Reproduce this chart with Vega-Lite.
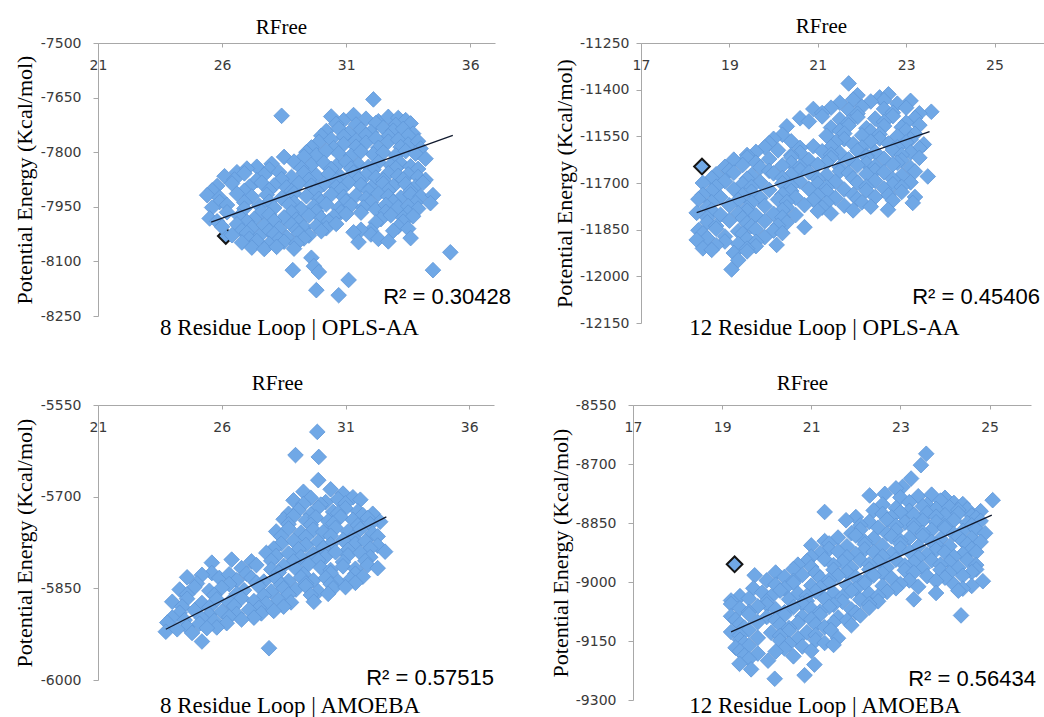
{
  "$schema": "https://vega.github.io/schema/vega-lite/v6.json",
  "background": "white",
  "padding": {"left": 12, "top": 15, "right": 0, "bottom": 0},
  "config": {
    "view": {"stroke": null},
    "axis": {"grid": false, "domainColor": "#a8a8a8", "tickColor": "#a8a8a8", "labelFont": "DejaVu Sans", "labelFontSize": 14, "labelColor": "#3a3a3a", "titleFont": "Liberation Serif, Times New Roman, DejaVu Serif, serif", "titleFontWeight": "normal", "titleColor": "#000000", "labelFlush": false, "labelOverlap": false},
    "axisX": {"labelPadding": -18, "tickSize": -4, "labelBaseline": "middle", "titleFontSize": 21, "titleBaseline": "alphabetic", "titleAlign": "center"},
    "axisY": {"tickSize": 5, "titleFontSize": 22, "titleBaseline": "alphabetic"},
    "text": {"font": "Liberation Sans, Arial, Helvetica, sans-serif", "fontSize": 22, "color": "#000000", "align": "right", "baseline": "middle"},
    "point": {"shape": "diamond", "filled": true, "size": 245, "color": "#70a8e6", "stroke": "#5f97d8", "strokeWidth": 0.8, "opacity": 1},
    "line": {"color": "#111a2e", "strokeWidth": 1.3}
  },
  "datasets": {
    "trend": [
      {"panel": "p1", "rfree": 25.56, "energy": -7992}, {"panel": "p1", "rfree": 35.3, "energy": -7754},
      {"panel": "p2", "rfree": 18.26, "energy": -11795}, {"panel": "p2", "rfree": 23.53, "energy": -11535},
      {"panel": "p3", "rfree": 23.74, "energy": -5917}, {"panel": "p3", "rfree": 32.65, "energy": -5733},
      {"panel": "p4", "rfree": 19.2, "energy": -9127}, {"panel": "p4", "rfree": 25.05, "energy": -8830}
    ],
    "p1hl": [{"rfree": 26.15, "energy": -8030}],
    "p2hl": [{"rfree": 18.38, "energy": -11647}],
    "p4hl": [{"rfree": 19.28, "energy": -8955}],
    "p1": [
      {"rfree":32.1,"energy":-7655},{"rfree":28.4,"energy":-7700},
      {"rfree":30.4,"energy":-7702},{"rfree":30.9,"energy":-7712},{"rfree":31.3,"energy":-7698},{"rfree":31.8,"energy":-7708},{"rfree":32.3,"energy":-7715},{"rfree":32.7,"energy":-7703},{"rfree":33.1,"energy":-7706},{"rfree":33.4,"energy":-7712},
      {"rfree":30.6,"energy":-7722},{"rfree":31.4,"energy":-7724},{"rfree":32.2,"energy":-7720},{"rfree":33.0,"energy":-7725},{"rfree":33.6,"energy":-7721},
      {"rfree":30.2,"energy":-7742},{"rfree":30.7,"energy":-7735},{"rfree":31.1,"energy":-7748},{"rfree":31.6,"energy":-7738},{"rfree":32.0,"energy":-7745},{"rfree":32.5,"energy":-7733},{"rfree":32.9,"energy":-7741},{"rfree":33.3,"energy":-7736},{"rfree":33.7,"energy":-7749},
      {"rfree":30.0,"energy":-7755},{"rfree":30.9,"energy":-7757},{"rfree":31.8,"energy":-7753},{"rfree":32.7,"energy":-7756},{"rfree":33.5,"energy":-7754},
      {"rfree":29.9,"energy":-7772},{"rfree":30.4,"energy":-7765},{"rfree":30.9,"energy":-7778},{"rfree":31.4,"energy":-7768},{"rfree":31.8,"energy":-7774},{"rfree":32.2,"energy":-7762},{"rfree":32.7,"energy":-7771},{"rfree":33.1,"energy":-7766},{"rfree":33.5,"energy":-7779},{"rfree":33.9,"energy":-7770},
      {"rfree":29.6,"energy":-7787},{"rfree":30.5,"energy":-7789},{"rfree":31.4,"energy":-7785},{"rfree":32.3,"energy":-7788},{"rfree":33.2,"energy":-7786},{"rfree":34.0,"energy":-7790},
      {"rfree":29.4,"energy":-7800},{"rfree":29.8,"energy":-7808},{"rfree":30.2,"energy":-7796},{"rfree":30.7,"energy":-7803},{"rfree":31.2,"energy":-7810},{"rfree":31.6,"energy":-7798},{"rfree":32.1,"energy":-7806},{"rfree":32.5,"energy":-7801},{"rfree":33.0,"energy":-7809},{"rfree":33.4,"energy":-7797},{"rfree":33.8,"energy":-7804},
      {"rfree":28.5,"energy":-7813},{"rfree":29.3,"energy":-7812},{"rfree":34.2,"energy":-7818},
      {"rfree":26.6,"energy":-7855},{"rfree":27.4,"energy":-7840},{"rfree":28.0,"energy":-7832},{"rfree":28.9,"energy":-7826},{"rfree":29.6,"energy":-7835},{"rfree":30.1,"energy":-7829},{"rfree":30.6,"energy":-7838},{"rfree":31.0,"energy":-7827},{"rfree":31.5,"energy":-7834},{"rfree":31.9,"energy":-7840},{"rfree":32.3,"energy":-7828},{"rfree":32.8,"energy":-7836},{"rfree":33.2,"energy":-7831},{"rfree":33.6,"energy":-7839},
      {"rfree":27.0,"energy":-7845},{"rfree":27.9,"energy":-7847},{"rfree":29.2,"energy":-7844},{"rfree":30.4,"energy":-7846},{"rfree":31.2,"energy":-7845},{"rfree":32.1,"energy":-7848},{"rfree":33.0,"energy":-7844},{"rfree":33.9,"energy":-7846},
      {"rfree":26.1,"energy":-7866},{"rfree":26.9,"energy":-7858},{"rfree":27.7,"energy":-7862},{"rfree":28.3,"energy":-7855},{"rfree":28.8,"energy":-7868},{"rfree":29.3,"energy":-7857},{"rfree":29.8,"energy":-7864},{"rfree":30.3,"energy":-7860},{"rfree":30.8,"energy":-7869},{"rfree":31.3,"energy":-7856},{"rfree":31.8,"energy":-7863},{"rfree":32.2,"energy":-7870},{"rfree":32.7,"energy":-7858},{"rfree":33.1,"energy":-7865},{"rfree":33.5,"energy":-7861},{"rfree":33.9,"energy":-7868},
      {"rfree":26.5,"energy":-7875},{"rfree":27.4,"energy":-7877},{"rfree":28.4,"energy":-7874},{"rfree":29.5,"energy":-7876},{"rfree":30.6,"energy":-7878},{"rfree":31.5,"energy":-7874},{"rfree":32.5,"energy":-7877},{"rfree":33.3,"energy":-7875},{"rfree":34.2,"energy":-7876},
      {"rfree":25.8,"energy":-7893},{"rfree":26.4,"energy":-7886},{"rfree":27.1,"energy":-7895},{"rfree":27.6,"energy":-7884},{"rfree":28.1,"energy":-7891},{"rfree":28.6,"energy":-7897},{"rfree":29.1,"energy":-7885},{"rfree":29.6,"energy":-7892},{"rfree":30.1,"energy":-7888},{"rfree":30.6,"energy":-7896},{"rfree":31.1,"energy":-7883},{"rfree":31.6,"energy":-7890},{"rfree":32.0,"energy":-7897},{"rfree":32.5,"energy":-7886},{"rfree":32.9,"energy":-7893},{"rfree":33.4,"energy":-7888},{"rfree":33.8,"energy":-7895},{"rfree":34.1,"energy":-7884},
      {"rfree":25.6,"energy":-7905},{"rfree":26.9,"energy":-7906},{"rfree":27.9,"energy":-7904},{"rfree":28.8,"energy":-7907},{"rfree":29.8,"energy":-7905},{"rfree":30.8,"energy":-7903},{"rfree":31.9,"energy":-7906},{"rfree":32.7,"energy":-7905},{"rfree":33.6,"energy":-7907},
      {"rfree":25.4,"energy":-7918},{"rfree":25.9,"energy":-7925},{"rfree":26.6,"energy":-7914},{"rfree":27.2,"energy":-7922},{"rfree":27.8,"energy":-7917},{"rfree":28.4,"energy":-7926},{"rfree":28.9,"energy":-7913},{"rfree":29.4,"energy":-7921},{"rfree":29.9,"energy":-7928},{"rfree":30.4,"energy":-7916},{"rfree":30.9,"energy":-7923},{"rfree":31.4,"energy":-7919},{"rfree":31.8,"energy":-7927},{"rfree":32.3,"energy":-7914},{"rfree":32.7,"energy":-7921},{"rfree":33.2,"energy":-7925},{"rfree":33.6,"energy":-7916},{"rfree":34.0,"energy":-7922},{"rfree":34.5,"energy":-7918},
      {"rfree":25.9,"energy":-7937},{"rfree":26.9,"energy":-7938},{"rfree":27.9,"energy":-7936},{"rfree":28.9,"energy":-7939},{"rfree":30.0,"energy":-7937},{"rfree":31.0,"energy":-7935},{"rfree":32.0,"energy":-7938},{"rfree":32.9,"energy":-7936},{"rfree":33.8,"energy":-7939},{"rfree":34.4,"energy":-7940},
      {"rfree":25.6,"energy":-7952},{"rfree":26.2,"energy":-7945},{"rfree":26.9,"energy":-7955},{"rfree":27.5,"energy":-7947},{"rfree":28.1,"energy":-7953},{"rfree":28.7,"energy":-7944},{"rfree":29.2,"energy":-7956},{"rfree":29.7,"energy":-7949},{"rfree":30.2,"energy":-7943},{"rfree":30.7,"energy":-7954},{"rfree":31.2,"energy":-7946},{"rfree":31.7,"energy":-7952},{"rfree":32.2,"energy":-7957},{"rfree":32.6,"energy":-7945},{"rfree":33.1,"energy":-7951},{"rfree":33.5,"energy":-7948},{"rfree":33.9,"energy":-7955},
      {"rfree":26.2,"energy":-7965},{"rfree":27.6,"energy":-7964},{"rfree":28.8,"energy":-7966},{"rfree":29.8,"energy":-7963},{"rfree":30.8,"energy":-7965},{"rfree":31.6,"energy":-7966},{"rfree":32.6,"energy":-7964},{"rfree":33.5,"energy":-7966},
      {"rfree":25.5,"energy":-7982},{"rfree":26.7,"energy":-7976},{"rfree":27.3,"energy":-7983},{"rfree":27.9,"energy":-7972},{"rfree":28.5,"energy":-7979},{"rfree":29.0,"energy":-7985},{"rfree":29.5,"energy":-7974},{"rfree":30.0,"energy":-7981},{"rfree":30.5,"energy":-7977},{"rfree":31.0,"energy":-7970},{"rfree":32.4,"energy":-7984},{"rfree":32.8,"energy":-7973},{"rfree":33.3,"energy":-7980},{"rfree":33.7,"energy":-7976},
      {"rfree":25.8,"energy":-7990},{"rfree":27.0,"energy":-7991},{"rfree":28.1,"energy":-7989},{"rfree":29.1,"energy":-7992},{"rfree":30.3,"energy":-7990},{"rfree":32.2,"energy":-7993},{"rfree":33.3,"energy":-7991},
      {"rfree":26.0,"energy":-8005},{"rfree":26.6,"energy":-7998},{"rfree":27.2,"energy":-8008},{"rfree":27.7,"energy":-8001},{"rfree":28.3,"energy":-8010},{"rfree":28.8,"energy":-7999},{"rfree":29.3,"energy":-8006},{"rfree":29.8,"energy":-8003},{"rfree":30.2,"energy":-8009},{"rfree":30.6,"energy":-7997},{"rfree":32.0,"energy":-8015},{"rfree":33.1,"energy":-8004},{"rfree":33.5,"energy":-8010},
      {"rfree":26.8,"energy":-8015},{"rfree":27.9,"energy":-8016},{"rfree":29.0,"energy":-8014},{"rfree":30.0,"energy":-8017},{"rfree":31.6,"energy":-8013},{"rfree":32.9,"energy":-8016},
      {"rfree":26.4,"energy":-8028},{"rfree":27.0,"energy":-8022},{"rfree":27.5,"energy":-8031},{"rfree":28.1,"energy":-8025},{"rfree":28.6,"energy":-8034},{"rfree":29.1,"energy":-8023},{"rfree":29.5,"energy":-8029},{"rfree":31.3,"energy":-8020},{"rfree":32.0,"energy":-8026},{"rfree":33.6,"energy":-8036},
      {"rfree":27.1,"energy":-8038},{"rfree":28.3,"energy":-8039},{"rfree":29.3,"energy":-8037},{"rfree":32.3,"energy":-8038},
      {"rfree":26.8,"energy":-8048},{"rfree":27.4,"energy":-8044},{"rfree":27.9,"energy":-8052},{"rfree":28.5,"energy":-8046},{"rfree":29.0,"energy":-8051},{"rfree":31.5,"energy":-8047},{"rfree":32.7,"energy":-8045},
      {"rfree":27.2,"energy":-8062},{"rfree":27.7,"energy":-8066},{"rfree":28.2,"energy":-8060},{"rfree":28.9,"energy":-8065},
      {"rfree":35.2,"energy":-8075},{"rfree":29.6,"energy":-8090},{"rfree":29.7,"energy":-8113},{"rfree":28.85,"energy":-8124},{"rfree":29.9,"energy":-8129},{"rfree":34.5,"energy":-8124},{"rfree":31.1,"energy":-8151},{"rfree":29.8,"energy":-8179},{"rfree":30.7,"energy":-8193}
    ],
    "p2": [
      {"rfree":21.7,"energy":-11380},
      {"rfree":21.9,"energy":-11418},{"rfree":22.4,"energy":-11425},{"rfree":22.6,"energy":-11415},
      {"rfree":21.8,"energy":-11432},{"rfree":22.5,"energy":-11434},
      {"rfree":21.5,"energy":-11442},{"rfree":22.2,"energy":-11438},{"rfree":22.8,"energy":-11445},{"rfree":23.1,"energy":-11436},
      {"rfree":20.9,"energy":-11462},{"rfree":21.3,"energy":-11458},{"rfree":21.7,"energy":-11465},{"rfree":22.0,"energy":-11455},{"rfree":22.5,"energy":-11462},{"rfree":23.0,"energy":-11458},{"rfree":23.57,"energy":-11471},
      {"rfree":21.1,"energy":-11475},{"rfree":21.9,"energy":-11477},{"rfree":22.7,"energy":-11474},{"rfree":23.3,"energy":-11476},
      {"rfree":20.6,"energy":-11492},{"rfree":21.1,"energy":-11486},{"rfree":21.5,"energy":-11495},{"rfree":21.9,"energy":-11488},{"rfree":22.3,"energy":-11493},{"rfree":22.7,"energy":-11485},{"rfree":23.2,"energy":-11491},
      {"rfree":20.8,"energy":-11502},{"rfree":21.7,"energy":-11505},{"rfree":22.5,"energy":-11504},{"rfree":23.0,"energy":-11506},
      {"rfree":20.3,"energy":-11518},{"rfree":21.3,"energy":-11522},{"rfree":21.7,"energy":-11515},{"rfree":22.1,"energy":-11524},{"rfree":22.5,"energy":-11517},{"rfree":22.9,"energy":-11521},{"rfree":23.3,"energy":-11514},
      {"rfree":21.5,"energy":-11532},{"rfree":22.2,"energy":-11534},{"rfree":23.0,"energy":-11531},
      {"rfree":20.2,"energy":-11545},{"rfree":21.2,"energy":-11548},{"rfree":21.6,"energy":-11541},{"rfree":22.0,"energy":-11547},{"rfree":22.4,"energy":-11543},{"rfree":22.8,"energy":-11550},{"rfree":23.2,"energy":-11542},
      {"rfree":20.0,"energy":-11558},{"rfree":21.6,"energy":-11559},{"rfree":22.4,"energy":-11557},{"rfree":23.1,"energy":-11560},
      {"rfree":19.9,"energy":-11572},{"rfree":20.4,"energy":-11566},{"rfree":20.9,"energy":-11582},{"rfree":21.4,"energy":-11570},{"rfree":21.8,"energy":-11575},{"rfree":22.2,"energy":-11567},{"rfree":22.6,"energy":-11573},{"rfree":23.0,"energy":-11569},{"rfree":23.4,"energy":-11576},
      {"rfree":19.8,"energy":-11585},{"rfree":20.6,"energy":-11587},{"rfree":21.3,"energy":-11584},{"rfree":22.0,"energy":-11586},{"rfree":22.8,"energy":-11585},{"rfree":23.3,"energy":-11588},
      {"rfree":19.6,"energy":-11600},{"rfree":20.1,"energy":-11595},{"rfree":20.6,"energy":-11603},{"rfree":21.1,"energy":-11598},{"rfree":21.5,"energy":-11604},{"rfree":21.9,"energy":-11596},{"rfree":22.3,"energy":-11601},{"rfree":22.7,"energy":-11594},{"rfree":23.1,"energy":-11602},
      {"rfree":19.4,"energy":-11610},{"rfree":20.4,"energy":-11611},{"rfree":21.3,"energy":-11609},{"rfree":22.1,"energy":-11612},{"rfree":22.9,"energy":-11610},
      {"rfree":19.1,"energy":-11625},{"rfree":19.4,"energy":-11618},{"rfree":19.9,"energy":-11623},{"rfree":20.4,"energy":-11617},{"rfree":20.8,"energy":-11626},{"rfree":21.3,"energy":-11620},{"rfree":21.7,"energy":-11624},{"rfree":22.1,"energy":-11616},{"rfree":22.5,"energy":-11622},{"rfree":22.9,"energy":-11627},{"rfree":23.3,"energy":-11619},
      {"rfree":19.6,"energy":-11635},{"rfree":20.4,"energy":-11636},{"rfree":21.2,"energy":-11634},{"rfree":22.1,"energy":-11637},{"rfree":22.8,"energy":-11635},
      {"rfree":18.9,"energy":-11648},{"rfree":19.3,"energy":-11642},{"rfree":19.7,"energy":-11650},{"rfree":20.2,"energy":-11644},{"rfree":20.6,"energy":-11647},{"rfree":21.0,"energy":-11641},{"rfree":21.5,"energy":-11649},{"rfree":21.9,"energy":-11643},{"rfree":22.3,"energy":-11646},{"rfree":22.7,"energy":-11640},{"rfree":23.1,"energy":-11651},
      {"rfree":19.0,"energy":-11660},{"rfree":19.9,"energy":-11661},{"rfree":20.6,"energy":-11659},{"rfree":21.5,"energy":-11662},{"rfree":22.3,"energy":-11660},{"rfree":23.2,"energy":-11663},
      {"rfree":18.7,"energy":-11672},{"rfree":19.1,"energy":-11667},{"rfree":19.5,"energy":-11675},{"rfree":20.0,"energy":-11669},{"rfree":20.4,"energy":-11673},{"rfree":20.8,"energy":-11666},{"rfree":21.2,"energy":-11674},{"rfree":21.7,"energy":-11668},{"rfree":22.1,"energy":-11671},{"rfree":22.5,"energy":-11665},{"rfree":22.9,"energy":-11676},{"rfree":23.49,"energy":-11679},
      {"rfree":18.6,"energy":-11685},{"rfree":19.4,"energy":-11686},{"rfree":20.2,"energy":-11684},{"rfree":21.0,"energy":-11687},{"rfree":21.8,"energy":-11685},{"rfree":22.7,"energy":-11688},
      {"rfree":18.4,"energy":-11700},{"rfree":18.9,"energy":-11694},{"rfree":19.3,"energy":-11703},{"rfree":19.7,"energy":-11697},{"rfree":20.2,"energy":-11701},{"rfree":20.6,"energy":-11695},{"rfree":21.0,"energy":-11702},{"rfree":21.4,"energy":-11696},{"rfree":21.9,"energy":-11699},{"rfree":22.3,"energy":-11693},{"rfree":22.7,"energy":-11704},{"rfree":23.1,"energy":-11698},
      {"rfree":18.7,"energy":-11712},{"rfree":19.5,"energy":-11713},{"rfree":20.4,"energy":-11711},{"rfree":21.2,"energy":-11714},{"rfree":22.1,"energy":-11712},{"rfree":22.9,"energy":-11713},
      {"rfree":18.6,"energy":-11725},{"rfree":19.1,"energy":-11720},{"rfree":19.5,"energy":-11728},{"rfree":19.9,"energy":-11722},{"rfree":20.4,"energy":-11726},{"rfree":20.8,"energy":-11719},{"rfree":21.2,"energy":-11727},{"rfree":21.6,"energy":-11721},{"rfree":22.1,"energy":-11724},{"rfree":22.5,"energy":-11718},{"rfree":22.9,"energy":-11729},{"rfree":23.2,"energy":-11745},
      {"rfree":18.4,"energy":-11738},{"rfree":19.3,"energy":-11739},{"rfree":20.2,"energy":-11737},{"rfree":21.0,"energy":-11740},{"rfree":21.8,"energy":-11738},{"rfree":22.6,"energy":-11739},
      {"rfree":18.3,"energy":-11752},{"rfree":18.8,"energy":-11746},{"rfree":19.2,"energy":-11755},{"rfree":19.7,"energy":-11749},{"rfree":20.1,"energy":-11753},{"rfree":20.5,"energy":-11747},{"rfree":20.9,"energy":-11754},{"rfree":21.4,"energy":-11748},{"rfree":21.9,"energy":-11751},{"rfree":22.3,"energy":-11745},{"rfree":22.7,"energy":-11756},{"rfree":23.15,"energy":-11764},
      {"rfree":18.6,"energy":-11762},{"rfree":19.5,"energy":-11763},{"rfree":20.3,"energy":-11761},{"rfree":21.2,"energy":-11764},{"rfree":22.0,"energy":-11762},
      {"rfree":18.5,"energy":-11777},{"rfree":19.0,"energy":-11772},{"rfree":19.4,"energy":-11780},{"rfree":19.8,"energy":-11774},{"rfree":20.3,"energy":-11778},{"rfree":20.7,"energy":-11771},{"rfree":21.1,"energy":-11779},{"rfree":21.6,"energy":-11773},{"rfree":22.2,"energy":-11776},{"rfree":22.59,"energy":-11786},
      {"rfree":18.6,"energy":-11788},{"rfree":19.4,"energy":-11789},{"rfree":20.2,"energy":-11787},{"rfree":21.0,"energy":-11790},{"rfree":21.8,"energy":-11788},
      {"rfree":18.26,"energy":-11796},{"rfree":18.8,"energy":-11802},{"rfree":19.2,"energy":-11797},{"rfree":19.6,"energy":-11804},{"rfree":20.0,"energy":-11799},{"rfree":20.5,"energy":-11803},{"rfree":21.3,"energy":-11798},
      {"rfree":18.5,"energy":-11812},{"rfree":19.3,"energy":-11813},{"rfree":20.2,"energy":-11811},
      {"rfree":18.5,"energy":-11826},{"rfree":19.0,"energy":-11821},{"rfree":19.4,"energy":-11829},{"rfree":19.8,"energy":-11823},{"rfree":20.3,"energy":-11827},
      {"rfree":18.7,"energy":-11838},{"rfree":19.5,"energy":-11839},{"rfree":20.1,"energy":-11837},
      {"rfree":18.3,"energy":-11852},{"rfree":18.7,"energy":-11847},{"rfree":19.2,"energy":-11855},{"rfree":19.6,"energy":-11849},{"rfree":20.0,"energy":-11853},{"rfree":20.7,"energy":-11842},
      {"rfree":18.4,"energy":-11862},{"rfree":19.3,"energy":-11863},{"rfree":20.2,"energy":-11861},
      {"rfree":18.5,"energy":-11877},{"rfree":18.9,"energy":-11872},{"rfree":19.4,"energy":-11880},{"rfree":19.8,"energy":-11874},
      {"rfree":18.26,"energy":-11883},{"rfree":18.9,"energy":-11888},{"rfree":19.6,"energy":-11889},
      {"rfree":18.7,"energy":-11900},{"rfree":19.2,"energy":-11896},{"rfree":19.6,"energy":-11903},{"rfree":20.07,"energy":-11899},
      {"rfree":18.4,"energy":-11910},{"rfree":19.4,"energy":-11911},
      {"rfree":18.6,"energy":-11915},{"rfree":19.1,"energy":-11925},{"rfree":19.4,"energy":-11920},
      {"rfree":19.2,"energy":-11948},{"rfree":19.05,"energy":-11978}
    ],
    "p3": [
      {"rfree":29.86,"energy":-5594},
      {"rfree":28.98,"energy":-5632},{"rfree":29.92,"energy":-5635},
      {"rfree":29.9,"energy":-5673},
      {"rfree":29.3,"energy":-5692},{"rfree":30.4,"energy":-5688},{"rfree":30.9,"energy":-5695},
      {"rfree":28.9,"energy":-5706},{"rfree":29.6,"energy":-5702},{"rfree":30.2,"energy":-5709},{"rfree":30.7,"energy":-5704},{"rfree":31.3,"energy":-5701},{"rfree":31.6,"energy":-5705},
      {"rfree":29.3,"energy":-5712},{"rfree":30.0,"energy":-5713},{"rfree":31.0,"energy":-5711},
      {"rfree":29.1,"energy":-5722},{"rfree":29.9,"energy":-5718},{"rfree":30.5,"energy":-5725},{"rfree":31.0,"energy":-5719},{"rfree":31.5,"energy":-5724},
      {"rfree":28.7,"energy":-5728},{"rfree":29.6,"energy":-5729},{"rfree":30.7,"energy":-5727},{"rfree":31.7,"energy":-5730},{"rfree":32.1,"energy":-5728},
      {"rfree":28.5,"energy":-5737},{"rfree":28.9,"energy":-5732},{"rfree":29.4,"energy":-5739},{"rfree":29.8,"energy":-5734},{"rfree":30.3,"energy":-5740},{"rfree":30.8,"energy":-5733},{"rfree":31.3,"energy":-5738},{"rfree":31.9,"energy":-5735},{"rfree":32.4,"energy":-5741},
      {"rfree":28.7,"energy":-5745},{"rfree":29.6,"energy":-5746},{"rfree":30.5,"energy":-5744},{"rfree":31.5,"energy":-5747},{"rfree":32.0,"energy":-5745},
      {"rfree":28.2,"energy":-5757},{"rfree":28.7,"energy":-5752},{"rfree":29.2,"energy":-5759},{"rfree":29.7,"energy":-5754},{"rfree":30.1,"energy":-5758},{"rfree":30.6,"energy":-5751},{"rfree":31.1,"energy":-5757},{"rfree":31.6,"energy":-5753},{"rfree":32.1,"energy":-5760},
      {"rfree":28.4,"energy":-5765},{"rfree":29.4,"energy":-5766},{"rfree":30.4,"energy":-5764},{"rfree":31.3,"energy":-5767},{"rfree":32.3,"energy":-5765},
      {"rfree":28.4,"energy":-5777},{"rfree":28.9,"energy":-5772},{"rfree":29.4,"energy":-5779},{"rfree":29.9,"energy":-5774},{"rfree":30.4,"energy":-5778},{"rfree":30.9,"energy":-5771},{"rfree":31.4,"energy":-5777},{"rfree":31.8,"energy":-5773},{"rfree":32.3,"energy":-5780},
      {"rfree":28.1,"energy":-5785},{"rfree":29.1,"energy":-5786},{"rfree":30.1,"energy":-5784},{"rfree":31.1,"energy":-5787},{"rfree":32.0,"energy":-5785},
      {"rfree":27.8,"energy":-5792},{"rfree":28.2,"energy":-5797},{"rfree":28.7,"energy":-5793},{"rfree":29.2,"energy":-5799},{"rfree":29.7,"energy":-5794},{"rfree":30.2,"energy":-5798},{"rfree":30.6,"energy":-5791},{"rfree":31.1,"energy":-5796},{"rfree":31.6,"energy":-5792},{"rfree":32.0,"energy":-5799},{"rfree":32.6,"energy":-5790},
      {"rfree":25.6,"energy":-5808},{"rfree":26.4,"energy":-5803},{"rfree":27.2,"energy":-5806},
      {"rfree":28.0,"energy":-5805},{"rfree":28.9,"energy":-5806},{"rfree":29.9,"energy":-5804},{"rfree":30.9,"energy":-5807},{"rfree":31.8,"energy":-5805},
      {"rfree":26.8,"energy":-5817},{"rfree":27.4,"energy":-5812},{"rfree":28.0,"energy":-5819},{"rfree":28.5,"energy":-5813},{"rfree":29.0,"energy":-5818},{"rfree":29.5,"energy":-5811},{"rfree":30.0,"energy":-5816},{"rfree":30.4,"energy":-5820},{"rfree":30.9,"energy":-5814},{"rfree":31.4,"energy":-5818},{"rfree":31.9,"energy":-5812},{"rfree":32.3,"energy":-5817},
      {"rfree":25.6,"energy":-5825},{"rfree":27.0,"energy":-5826},{"rfree":28.3,"energy":-5824},{"rfree":29.3,"energy":-5827},{"rfree":30.4,"energy":-5825},{"rfree":31.4,"energy":-5826},
      {"rfree":24.6,"energy":-5832},{"rfree":25.2,"energy":-5828},{"rfree":25.9,"energy":-5833},{"rfree":26.3,"energy":-5827},
      {"rfree":26.6,"energy":-5837},{"rfree":27.2,"energy":-5833},{"rfree":27.7,"energy":-5839},{"rfree":28.2,"energy":-5834},{"rfree":28.7,"energy":-5838},{"rfree":29.2,"energy":-5832},{"rfree":29.7,"energy":-5837},{"rfree":30.2,"energy":-5833},{"rfree":30.7,"energy":-5839},{"rfree":31.2,"energy":-5835},{"rfree":31.7,"energy":-5831},
      {"rfree":25.0,"energy":-5842},{"rfree":26.3,"energy":-5843},{"rfree":27.4,"energy":-5841},{"rfree":28.4,"energy":-5844},{"rfree":29.4,"energy":-5842},{"rfree":30.4,"energy":-5843},{"rfree":31.4,"energy":-5841},
      {"rfree":24.3,"energy":-5852},{"rfree":24.9,"energy":-5848},{"rfree":25.5,"energy":-5854},{"rfree":26.0,"energy":-5849},{"rfree":26.9,"energy":-5853},{"rfree":27.5,"energy":-5847},{"rfree":28.0,"energy":-5855},{"rfree":28.5,"energy":-5850},{"rfree":29.0,"energy":-5852},{"rfree":29.4,"energy":-5846},{"rfree":29.9,"energy":-5855},{"rfree":30.5,"energy":-5850},{"rfree":31.0,"energy":-5848},
      {"rfree":24.6,"energy":-5860},{"rfree":25.7,"energy":-5861},{"rfree":26.6,"energy":-5859},{"rfree":27.7,"energy":-5862},{"rfree":28.7,"energy":-5860},{"rfree":29.6,"energy":-5861},{"rfree":30.3,"energy":-5859},
      {"rfree":24.0,"energy":-5872},{"rfree":24.6,"energy":-5867},{"rfree":25.2,"energy":-5874},{"rfree":25.8,"energy":-5868},{"rfree":26.3,"energy":-5873},{"rfree":26.8,"energy":-5866},{"rfree":27.3,"energy":-5871},{"rfree":27.8,"energy":-5875},{"rfree":28.3,"energy":-5869},{"rfree":28.8,"energy":-5873},{"rfree":29.72,"energy":-5872},
      {"rfree":24.4,"energy":-5880},{"rfree":25.5,"energy":-5881},{"rfree":26.5,"energy":-5879},{"rfree":27.5,"energy":-5882},{"rfree":28.5,"energy":-5880},
      {"rfree":24.3,"energy":-5890},{"rfree":24.9,"energy":-5886},{"rfree":25.5,"energy":-5893},{"rfree":26.0,"energy":-5888},{"rfree":26.6,"energy":-5892},{"rfree":27.1,"energy":-5885},{"rfree":27.6,"energy":-5891},{"rfree":28.1,"energy":-5887},
      {"rfree":24.0,"energy":-5898},{"rfree":25.2,"energy":-5899},{"rfree":26.3,"energy":-5897},{"rfree":27.3,"energy":-5898},
      {"rfree":23.8,"energy":-5906},{"rfree":24.5,"energy":-5902},{"rfree":25.1,"energy":-5908},{"rfree":25.7,"energy":-5903},{"rfree":26.2,"energy":-5907},{"rfree":26.8,"energy":-5901},
      {"rfree":24.6,"energy":-5913},{"rfree":25.8,"energy":-5914},
      {"rfree":23.74,"energy":-5921},{"rfree":24.2,"energy":-5917},{"rfree":24.8,"energy":-5923},{"rfree":25.4,"energy":-5915},
      {"rfree":25.2,"energy":-5937},{"rfree":27.91,"energy":-5948}
    ],
    "p4": [
      {"rfree":23.58,"energy":-8674},{"rfree":23.46,"energy":-8703},{"rfree":23.24,"energy":-8737},{"rfree":23.05,"energy":-8758},{"rfree":22.9,"energy":-8762},
      {"rfree":22.31,"energy":-8780},{"rfree":22.65,"energy":-8776},{"rfree":23.4,"energy":-8782},{"rfree":23.7,"energy":-8778},
      {"rfree":23.0,"energy":-8785},{"rfree":24.0,"energy":-8786},
      {"rfree":23.2,"energy":-8797},{"rfree":23.9,"energy":-8793},{"rfree":24.2,"energy":-8799},{"rfree":25.07,"energy":-8792},
      {"rfree":22.6,"energy":-8803},{"rfree":23.6,"energy":-8804},{"rfree":24.4,"energy":-8802},
      {"rfree":22.9,"energy":-8812},{"rfree":23.5,"energy":-8808},{"rfree":23.8,"energy":-8814},{"rfree":24.1,"energy":-8810},{"rfree":24.5,"energy":-8815},
      {"rfree":22.4,"energy":-8818},{"rfree":23.2,"energy":-8819},{"rfree":24.3,"energy":-8817},{"rfree":24.8,"energy":-8820},
      {"rfree":21.3,"energy":-8822},{"rfree":22.6,"energy":-8827},{"rfree":23.0,"energy":-8823},{"rfree":23.3,"energy":-8829},{"rfree":23.6,"energy":-8825},{"rfree":24.0,"energy":-8830},{"rfree":24.3,"energy":-8826},{"rfree":24.6,"energy":-8831},
      {"rfree":22.0,"energy":-8835},{"rfree":22.8,"energy":-8836},{"rfree":23.8,"energy":-8834},{"rfree":24.7,"energy":-8837},
      {"rfree":21.78,"energy":-8843},{"rfree":22.3,"energy":-8847},{"rfree":22.7,"energy":-8842},{"rfree":23.1,"energy":-8849},{"rfree":23.5,"energy":-8844},{"rfree":23.8,"energy":-8848},{"rfree":24.2,"energy":-8843},{"rfree":24.5,"energy":-8850},{"rfree":24.8,"energy":-8845},
      {"rfree":22.1,"energy":-8856},{"rfree":22.9,"energy":-8857},{"rfree":23.3,"energy":-8855},{"rfree":24.0,"energy":-8858},{"rfree":24.6,"energy":-8856},
      {"rfree":22.1,"energy":-8867},{"rfree":22.5,"energy":-8862},{"rfree":22.9,"energy":-8869},{"rfree":23.3,"energy":-8864},{"rfree":23.7,"energy":-8868},{"rfree":24.0,"energy":-8863},{"rfree":24.4,"energy":-8870},{"rfree":24.7,"energy":-8866},
      {"rfree":21.9,"energy":-8876},{"rfree":22.7,"energy":-8877},{"rfree":23.5,"energy":-8875},{"rfree":24.2,"energy":-8878},{"rfree":24.9,"energy":-8876},
      {"rfree":21.6,"energy":-8887},{"rfree":22.0,"energy":-8882},{"rfree":22.4,"energy":-8889},{"rfree":22.8,"energy":-8884},{"rfree":23.2,"energy":-8888},{"rfree":23.5,"energy":-8883},{"rfree":23.9,"energy":-8890},{"rfree":24.3,"energy":-8885},{"rfree":24.6,"energy":-8889},{"rfree":24.8,"energy":-8898},
      {"rfree":21.3,"energy":-8896},{"rfree":22.2,"energy":-8897},{"rfree":23.0,"energy":-8895},{"rfree":23.7,"energy":-8898},{"rfree":24.4,"energy":-8896},
      {"rfree":21.0,"energy":-8907},{"rfree":21.4,"energy":-8902},{"rfree":21.8,"energy":-8909},{"rfree":22.2,"energy":-8904},{"rfree":22.6,"energy":-8908},{"rfree":23.0,"energy":-8903},{"rfree":23.4,"energy":-8910},{"rfree":23.8,"energy":-8905},{"rfree":24.1,"energy":-8909},{"rfree":24.5,"energy":-8904},
      {"rfree":21.4,"energy":-8916},{"rfree":22.2,"energy":-8917},{"rfree":23.0,"energy":-8915},{"rfree":23.8,"energy":-8918},{"rfree":24.6,"energy":-8916},
      {"rfree":21.2,"energy":-8927},{"rfree":21.6,"energy":-8922},{"rfree":22.0,"energy":-8929},{"rfree":22.4,"energy":-8924},{"rfree":22.8,"energy":-8928},{"rfree":23.2,"energy":-8923},{"rfree":23.6,"energy":-8930},{"rfree":24.0,"energy":-8925},{"rfree":24.4,"energy":-8929},{"rfree":24.7,"energy":-8924},
      {"rfree":21.0,"energy":-8936},{"rfree":21.8,"energy":-8937},{"rfree":22.6,"energy":-8935},{"rfree":23.4,"energy":-8938},{"rfree":24.2,"energy":-8936},
      {"rfree":20.9,"energy":-8947},{"rfree":21.3,"energy":-8942},{"rfree":21.7,"energy":-8949},{"rfree":22.1,"energy":-8944},{"rfree":22.5,"energy":-8948},{"rfree":22.9,"energy":-8943},{"rfree":23.3,"energy":-8950},{"rfree":23.7,"energy":-8945},{"rfree":24.1,"energy":-8949},{"rfree":24.5,"energy":-8944},
      {"rfree":20.7,"energy":-8956},{"rfree":21.5,"energy":-8957},{"rfree":22.3,"energy":-8955},{"rfree":23.1,"energy":-8958},{"rfree":23.9,"energy":-8956},{"rfree":24.7,"energy":-8957},
      {"rfree":20.6,"energy":-8967},{"rfree":21.0,"energy":-8962},{"rfree":21.5,"energy":-8969},{"rfree":21.9,"energy":-8964},{"rfree":22.3,"energy":-8968},{"rfree":22.7,"energy":-8963},{"rfree":23.1,"energy":-8970},{"rfree":23.5,"energy":-8965},{"rfree":23.9,"energy":-8969},{"rfree":24.3,"energy":-8964},{"rfree":24.7,"energy":-8968},
      {"rfree":20.2,"energy":-8976},{"rfree":21.1,"energy":-8977},{"rfree":21.8,"energy":-8975},{"rfree":22.6,"energy":-8978},{"rfree":23.3,"energy":-8976},{"rfree":24.1,"energy":-8977},{"rfree":24.6,"energy":-8975},
      {"rfree":19.73,"energy":-8983},{"rfree":20.4,"energy":-8987},{"rfree":20.8,"energy":-8982},{"rfree":21.2,"energy":-8989},{"rfree":21.6,"energy":-8984},{"rfree":22.0,"energy":-8988},{"rfree":22.4,"energy":-8983},{"rfree":22.8,"energy":-8990},{"rfree":23.6,"energy":-8985},{"rfree":24.0,"energy":-8989},{"rfree":24.4,"energy":-8984},{"rfree":24.85,"energy":-8998},
      {"rfree":20.0,"energy":-8996},{"rfree":20.6,"energy":-8997},{"rfree":21.4,"energy":-8995},{"rfree":22.2,"energy":-8998},{"rfree":23.2,"energy":-8996},{"rfree":23.8,"energy":-8997},
      {"rfree":20.2,"energy":-9007},{"rfree":20.6,"energy":-9002},{"rfree":21.0,"energy":-9009},{"rfree":21.4,"energy":-9004},{"rfree":21.8,"energy":-9008},{"rfree":22.2,"energy":-9003},{"rfree":22.6,"energy":-9010},{"rfree":23.0,"energy":-9005},{"rfree":23.4,"energy":-9012},{"rfree":24.2,"energy":-9006},{"rfree":24.6,"energy":-9010},
      {"rfree":19.7,"energy":-9016},{"rfree":20.4,"energy":-9017},{"rfree":21.2,"energy":-9015},{"rfree":22.0,"energy":-9018},{"rfree":22.9,"energy":-9016},{"rfree":24.4,"energy":-9017},
      {"rfree":19.9,"energy":-9027},{"rfree":20.3,"energy":-9022},{"rfree":20.7,"energy":-9029},{"rfree":21.1,"energy":-9024},{"rfree":21.5,"energy":-9028},{"rfree":21.9,"energy":-9023},{"rfree":22.3,"energy":-9030},{"rfree":22.7,"energy":-9025},{"rfree":23.8,"energy":-9028},{"rfree":24.3,"energy":-9022},
      {"rfree":19.4,"energy":-9036},{"rfree":20.1,"energy":-9037},{"rfree":20.9,"energy":-9035},{"rfree":21.7,"energy":-9038},{"rfree":22.5,"energy":-9036},
      {"rfree":19.2,"energy":-9047},{"rfree":19.6,"energy":-9042},{"rfree":20.0,"energy":-9049},{"rfree":20.5,"energy":-9044},{"rfree":20.9,"energy":-9048},{"rfree":21.3,"energy":-9043},{"rfree":21.7,"energy":-9050},{"rfree":22.1,"energy":-9045},{"rfree":22.5,"energy":-9049},{"rfree":23.3,"energy":-9044},
      {"rfree":19.2,"energy":-9056},{"rfree":20.0,"energy":-9057},{"rfree":20.8,"energy":-9055},{"rfree":21.5,"energy":-9058},{"rfree":22.3,"energy":-9056},
      {"rfree":19.4,"energy":-9067},{"rfree":19.8,"energy":-9062},{"rfree":20.2,"energy":-9069},{"rfree":20.6,"energy":-9064},{"rfree":21.0,"energy":-9068},{"rfree":21.4,"energy":-9063},{"rfree":21.9,"energy":-9070},{"rfree":22.3,"energy":-9065},
      {"rfree":19.6,"energy":-9076},{"rfree":20.4,"energy":-9077},{"rfree":21.2,"energy":-9075},{"rfree":22.0,"energy":-9078},
      {"rfree":19.2,"energy":-9087},{"rfree":19.6,"energy":-9082},{"rfree":20.0,"energy":-9089},{"rfree":20.4,"energy":-9084},{"rfree":20.8,"energy":-9088},{"rfree":21.2,"energy":-9083},{"rfree":21.6,"energy":-9090},{"rfree":22.1,"energy":-9085},{"rfree":24.36,"energy":-9085},
      {"rfree":19.3,"energy":-9096},{"rfree":20.2,"energy":-9097},{"rfree":21.0,"energy":-9095},{"rfree":21.8,"energy":-9098},
      {"rfree":19.4,"energy":-9107},{"rfree":19.8,"energy":-9102},{"rfree":20.3,"energy":-9109},{"rfree":20.7,"energy":-9104},{"rfree":21.1,"energy":-9108},{"rfree":21.5,"energy":-9103},{"rfree":21.9,"energy":-9110},
      {"rfree":19.5,"energy":-9116},{"rfree":20.5,"energy":-9117},{"rfree":21.3,"energy":-9115},
      {"rfree":19.2,"energy":-9127},{"rfree":19.6,"energy":-9122},{"rfree":20.1,"energy":-9129},{"rfree":20.5,"energy":-9124},{"rfree":20.9,"energy":-9128},{"rfree":21.44,"energy":-9122},
      {"rfree":19.4,"energy":-9136},{"rfree":20.3,"energy":-9137},{"rfree":21.1,"energy":-9135},
      {"rfree":19.4,"energy":-9147},{"rfree":19.8,"energy":-9142},{"rfree":20.3,"energy":-9149},{"rfree":20.7,"energy":-9144},{"rfree":21.1,"energy":-9148},{"rfree":21.6,"energy":-9143},
      {"rfree":19.5,"energy":-9156},{"rfree":20.5,"energy":-9157},{"rfree":21.3,"energy":-9155},
      {"rfree":19.3,"energy":-9167},{"rfree":19.6,"energy":-9162},{"rfree":20.4,"energy":-9169},{"rfree":20.8,"energy":-9164},{"rfree":21.5,"energy":-9160},
      {"rfree":19.4,"energy":-9176},{"rfree":20.2,"energy":-9177},{"rfree":21.0,"energy":-9175},
      {"rfree":19.5,"energy":-9187},{"rfree":19.8,"energy":-9182},{"rfree":20.6,"energy":-9189},
      {"rfree":19.6,"energy":-9196},
      {"rfree":19.39,"energy":-9208},{"rfree":20.03,"energy":-9200},{"rfree":21.07,"energy":-9210},
      {"rfree":19.65,"energy":-9222},
      {"rfree":20.18,"energy":-9246},{"rfree":20.85,"energy":-9237}
    ]
  },
  "vconcat": [
    {
      "spacing": 41,
      "hconcat": [
        {
          "width": 397, "height": 273,
          "title": {"text": "8 Residue Loop | OPLS-AA", "orient": "bottom", "frame": "group", "anchor": "middle", "baseline": "alphabetic", "offset": 12, "dx": -7, "font": "Liberation Serif, Times New Roman, DejaVu Serif, serif", "fontSize": 23, "fontWeight": "normal", "color": "#000000"},
          "layer": [
            {"data": {"name": "p1hl"}, "mark": {"type": "point", "stroke": "#151515", "strokeWidth": 2},
             "encoding": {
               "x": {"field": "rfree", "type": "quantitative", "scale": {"domain": [21, 37], "nice": false, "zero": false},
                     "axis": {"orient": "top", "values": [21, 26, 31, 36], "title": "RFree", "titleX": 183, "titleY": -10, "labelExpr": "toString(datum.value)"}},
               "y": {"field": "energy", "type": "quantitative", "scale": {"domain": [-8250, -7500], "nice": false, "zero": false},
                     "axis": {"values": [-8250, -8100, -7950, -7800, -7650, -7500], "title": "Potential Energy (Kcal/mol)", "titleX": -67, "labelPadding": 12, "labelExpr": "toString(datum.value)"}}
             }},
            {"data": {"name": "p1"}, "mark": {"type": "point"},
             "encoding": {"x": {"field": "rfree", "type": "quantitative"}, "y": {"field": "energy", "type": "quantitative"}}},
            {"data": {"name": "trend"}, "transform": [{"filter": "datum.panel == 'p1'"}], "mark": {"type": "line"},
             "encoding": {"x": {"field": "rfree", "type": "quantitative"}, "y": {"field": "energy", "type": "quantitative"}}},
            {"data": {"values": [{"label": "R² = 0.30428"}]}, "mark": {"type": "text", "dx": 16},
             "encoding": {"x": {"datum": 37}, "y": {"datum": -8198}, "text": {"field": "label", "type": "nominal"}}}
          ]
        },
        {
          "width": 403, "height": 280,
          "title": {"text": "12 Residue Loop | OPLS-AA", "orient": "bottom", "frame": "group", "anchor": "middle", "baseline": "alphabetic", "offset": 5, "dx": -18, "font": "Liberation Serif, Times New Roman, DejaVu Serif, serif", "fontSize": 23, "fontWeight": "normal", "color": "#000000"},
          "layer": [
            {"data": {"name": "p2hl"}, "mark": {"type": "point", "stroke": "#151515", "strokeWidth": 2},
             "encoding": {
               "x": {"field": "rfree", "type": "quantitative", "scale": {"domain": [17, 26.12], "nice": false, "zero": false},
                     "axis": {"orient": "top", "values": [17, 19, 21, 23, 25], "title": "RFree", "titleX": 180, "titleY": -11, "labelExpr": "toString(datum.value)"}},
               "y": {"field": "energy", "type": "quantitative", "scale": {"domain": [-12150, -11250], "nice": false, "zero": false},
                     "axis": {"values": [-12150, -12000, -11850, -11700, -11550, -11400, -11250], "title": "Potential Energy (Kcal/mol)", "titleX": -70, "labelPadding": 7, "labelExpr": "toString(datum.value)"}}
             }},
            {"data": {"name": "p2"}, "mark": {"type": "point"},
             "encoding": {"x": {"field": "rfree", "type": "quantitative"}, "y": {"field": "energy", "type": "quantitative"}}},
            {"data": {"name": "trend"}, "transform": [{"filter": "datum.panel == 'p2'"}], "mark": {"type": "line"},
             "encoding": {"x": {"field": "rfree", "type": "quantitative"}, "y": {"field": "energy", "type": "quantitative"}}},
            {"data": {"values": [{"label": "R² = 0.45406"}]}, "mark": {"type": "text", "dx": -4},
             "encoding": {"x": {"datum": 26.12}, "y": {"datum": -12066}, "text": {"field": "label", "type": "nominal"}}}
          ]
        }
      ]
    },
    {
      "spacing": 55,
      "hconcat": [
        {
          "width": 396, "height": 275,
          "title": {"text": "8 Residue Loop | AMOEBA", "orient": "bottom", "frame": "group", "anchor": "middle", "baseline": "alphabetic", "offset": 24, "dx": -6, "font": "Liberation Serif, Times New Roman, DejaVu Serif, serif", "fontSize": 23, "fontWeight": "normal", "color": "#000000"},
          "layer": [
            {"data": {"name": "p3"}, "mark": {"type": "point"},
             "encoding": {
               "x": {"field": "rfree", "type": "quantitative", "scale": {"domain": [21, 37], "nice": false, "zero": false},
                     "axis": {"orient": "top", "values": [21, 26, 31, 36], "title": "RFree", "titleX": 179, "titleY": -16, "labelExpr": "toString(datum.value)"}},
               "y": {"field": "energy", "type": "quantitative", "scale": {"domain": [-6000, -5550], "nice": false, "zero": false},
                     "axis": {"values": [-6000, -5850, -5700, -5550], "title": "Potential Energy (Kcal/mol)", "titleX": -67, "labelPadding": 12, "labelExpr": "toString(datum.value)"}}
             }},
            {"data": {"name": "trend"}, "transform": [{"filter": "datum.panel == 'p3'"}], "mark": {"type": "line"},
             "encoding": {"x": {"field": "rfree", "type": "quantitative"}, "y": {"field": "energy", "type": "quantitative"}}},
            {"data": {"values": [{"label": "R² = 0.57515"}]}, "mark": {"type": "text", "dx": 0},
             "encoding": {"x": {"datum": 37}, "y": {"datum": -5997}, "text": {"field": "label", "type": "nominal"}}}
          ]
        },
        {
          "width": 398, "height": 295,
          "title": {"text": "12 Residue Loop | AMOEBA", "orient": "bottom", "frame": "group", "anchor": "middle", "baseline": "alphabetic", "offset": 6, "dx": -7, "font": "Liberation Serif, Times New Roman, DejaVu Serif, serif", "fontSize": 23, "fontWeight": "normal", "color": "#000000"},
          "layer": [
            {"data": {"name": "p4hl"}, "mark": {"type": "point", "stroke": "#151515", "strokeWidth": 2},
             "encoding": {
               "x": {"field": "rfree", "type": "quantitative", "scale": {"domain": [17, 25.93], "nice": false, "zero": false},
                     "axis": {"orient": "top", "values": [17, 19, 21, 23, 25], "title": "RFree", "titleX": 169, "titleY": -16, "labelExpr": "toString(datum.value)"}},
               "y": {"field": "energy", "type": "quantitative", "scale": {"domain": [-9300, -8550], "nice": false, "zero": false},
                     "axis": {"values": [-9300, -9150, -9000, -8850, -8700, -8550], "title": "Potential Energy (Kcal/mol)", "titleX": -66, "labelPadding": 12, "labelExpr": "toString(datum.value)"}}
             }},
            {"data": {"name": "p4"}, "mark": {"type": "point"},
             "encoding": {"x": {"field": "rfree", "type": "quantitative"}, "y": {"field": "energy", "type": "quantitative"}}},
            {"data": {"name": "trend"}, "transform": [{"filter": "datum.panel == 'p4'"}], "mark": {"type": "line"},
             "encoding": {"x": {"field": "rfree", "type": "quantitative"}, "y": {"field": "energy", "type": "quantitative"}}},
            {"data": {"values": [{"label": "R² = 0.56434"}]}, "mark": {"type": "text", "dx": 5},
             "encoding": {"x": {"datum": 25.93}, "y": {"datum": -9246}, "text": {"field": "label", "type": "nominal"}}}
          ]
        }
      ]
    }
  ],
  "spacing": 32
}
